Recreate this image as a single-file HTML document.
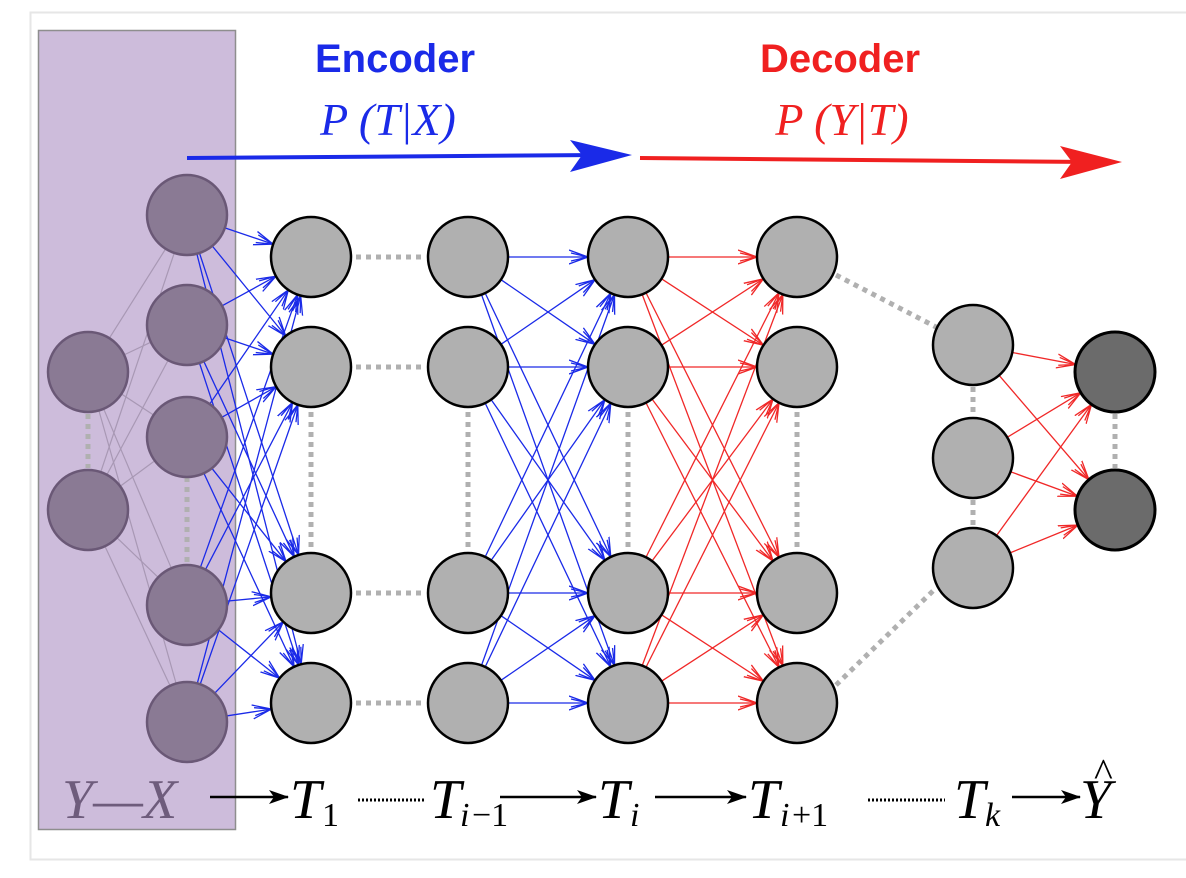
<!DOCTYPE html>
<html><head><meta charset="utf-8"><style>
html,body{margin:0;padding:0;background:#fff;width:1186px;height:878px;overflow:hidden}
</style></head><body>
<svg id="s" width="1186" height="878" viewBox="0 0 1186 878" xmlns="http://www.w3.org/2000/svg">
<defs>
<marker id="ab" viewBox="0 0 20 20" refX="19" refY="10" markerWidth="20" markerHeight="20" markerUnits="userSpaceOnUse" orient="auto"><path d="M0,3 L19,10 L0,17 M2,6 L19,10 L2,14" fill="none" stroke="#1a2ae8" stroke-width="1.3"/></marker>
<marker id="ar" viewBox="0 0 20 20" refX="19" refY="10" markerWidth="20" markerHeight="20" markerUnits="userSpaceOnUse" orient="auto"><path d="M0,3 L19,10 L0,17 M2,6 L19,10 L2,14" fill="none" stroke="#f02828" stroke-width="1.3"/></marker>
<marker id="ak" viewBox="0 0 20 14" refX="19" refY="7" markerWidth="20" markerHeight="14" markerUnits="userSpaceOnUse" orient="auto"><path d="M0,0 L20,7 L0,14 L5,7z" fill="#000"/></marker>
</defs>
<rect x="30.5" y="12.5" width="1170" height="847" fill="#fff" stroke="#e6e6e6" stroke-width="2"/>
<rect x="38.5" y="30.5" width="197" height="799" fill="#cdbcdb" stroke="#8e8e8e" stroke-width="1.5"/>
<g id="lines"></g>
<g id="nodes"></g>
<!-- top arrows -->
<line x1="187" y1="158" x2="600" y2="155" stroke="#1a2ae8" stroke-width="4"/>
<path d="M632,155 L570,140 L582,155 L570,172z" fill="#1a2ae8"/>
<line x1="640" y1="158" x2="1090" y2="162" stroke="#f02020" stroke-width="4"/>
<path d="M1122,162 L1060,146 L1072,162 L1060,179z" fill="#f02020"/>
<text x="395" y="72" text-anchor="middle" font-family="Liberation Sans, sans-serif" font-weight="bold" font-size="40" fill="#1a2ae8">Encoder</text>
<text x="388" y="135" text-anchor="middle" font-family="Liberation Serif, serif" font-style="italic" font-size="46" fill="#1a2ae8">P (T|X)</text>
<text x="840" y="72" text-anchor="middle" font-family="Liberation Sans, sans-serif" font-weight="bold" font-size="40" fill="#f02020">Decoder</text>
<text x="842" y="135" text-anchor="middle" font-family="Liberation Serif, serif" font-style="italic" font-size="46" fill="#f02020">P (Y|T)</text>
<!-- bottom labels -->
<g font-family="Liberation Serif, serif" font-style="italic" font-size="56">
<text x="62" y="818" fill="#6e5c7c">Y—X</text>
<text x="290" y="818" fill="#000">T</text>
<text x="430" y="818" fill="#000">T</text>
<text x="598" y="818" fill="#000">T</text>
<text x="748" y="818" fill="#000">T</text>
<text x="954" y="818" fill="#000">T</text>
<text x="1080" y="818" fill="#000">Y</text>
</g>
<g font-family="Liberation Serif, serif" font-size="34" fill="#000">
<text x="322" y="826">1</text>
<text x="460" y="826" font-style="italic">i</text><text x="472" y="826">−1</text>
<text x="630" y="826" font-style="italic">i</text>
<text x="780" y="826" font-style="italic">i</text><text x="792" y="826">+1</text>
<text x="985" y="826" font-style="italic">k</text>
<text x="1094" y="786" font-size="40">^</text>
</g>
<g stroke="#000" stroke-dasharray="2,2" stroke-width="3">
<line x1="358" y1="800" x2="425" y2="800"/><line x1="868" y1="800" x2="945" y2="800"/>
</g>
<g stroke="#000" stroke-width="2.5">
<line x1="210" y1="797" x2="288" y2="797" marker-end="url(#ak)"/>
<line x1="500" y1="797" x2="596" y2="797" marker-end="url(#ak)"/>
<line x1="655" y1="797" x2="746" y2="797" marker-end="url(#ak)"/>
<line x1="1012" y1="797" x2="1080" y2="797" marker-end="url(#ak)"/>
</g>
</svg>
<script>
var NS="http://www.w3.org/2000/svg",L=document.getElementById("lines"),N=document.getElementById("nodes");
function el(p,t,a){var e=document.createElementNS(NS,t);for(var k in a)e.setAttribute(k,a[k]);p.appendChild(e);return e;}
var R=40;
var X=[[88,372],[88,510]];
var C2=[215,325,437,605,722].map(function(y){return[187,y]});
function col(x,ys){return ys.map(function(y){return[x,y]})}
var TY=[257,367,593,703];
var T1=col(311,TY),TA=col(468,TY),TI=col(628,TY),TB=col(797,TY);
var TK=col(973,[345,458,568]),YY=col(1115,[372,510]);
function edge(a,b,col,mk,w){var dx=b[0]-a[0],dy=b[1]-a[1],d=Math.hypot(dx,dy);
var x1=a[0]+dx/d*R,y1=a[1]+dy/d*R,x2=b[0]-dx/d*R,y2=b[1]-dy/d*R;
var o={x1:x1,y1:y1,x2:x2,y2:y2,stroke:col,"stroke-width":w||1.3};if(mk)o["marker-end"]="url(#"+mk+")";el(L,"line",o);}
function dot(a,b){el(L,"line",{x1:a[0],y1:a[1],x2:b[0],y2:b[1],stroke:"#b0b0b0","stroke-width":5,"stroke-dasharray":"5,5"});}
X.forEach(function(a){C2.forEach(function(b){edge(a,b,"#a898b4",null,1.2)})});
C2.forEach(function(a){T1.forEach(function(b){edge(a,b,"#1a2ae8","ab")})});
TA.forEach(function(a){TI.forEach(function(b){edge(a,b,"#1a2ae8","ab")})});
TI.forEach(function(a){TB.forEach(function(b){edge(a,b,"#f02828","ar")})});
TK.forEach(function(a){YY.forEach(function(b){edge(a,b,"#f02828","ar")})});
for(var i=0;i<4;i++)dot([T1[i][0]+R+5,TY[i]],[TA[i][0]-R-5,TY[i]]);
[T1,TA,TI,TB].forEach(function(c){dot([c[1][0],c[1][1]+R+5],[c[2][0],c[2][1]-R-5])});
dot([88,414],[88,468]);dot([187,477],[187,565]);
dot([973,387],[973,416]);dot([973,500],[973,526]);dot([1115,414],[1115,468]);
dot([836,275],[936,327]);dot([836,685],[936,588]);
function node(p,f,s,w){el(N,"circle",{cx:p[0],cy:p[1],r:R,fill:f,stroke:s,"stroke-width":w});}
X.concat(C2).forEach(function(p){node(p,"#8a7a94","#6a5876",2.5)});
T1.concat(TA,TI,TB,TK).forEach(function(p){node(p,"#b0b0b0","#000",2.5)});
YY.forEach(function(p){node(p,"#6b6b6b","#000",3)});
</script>
</body></html>
